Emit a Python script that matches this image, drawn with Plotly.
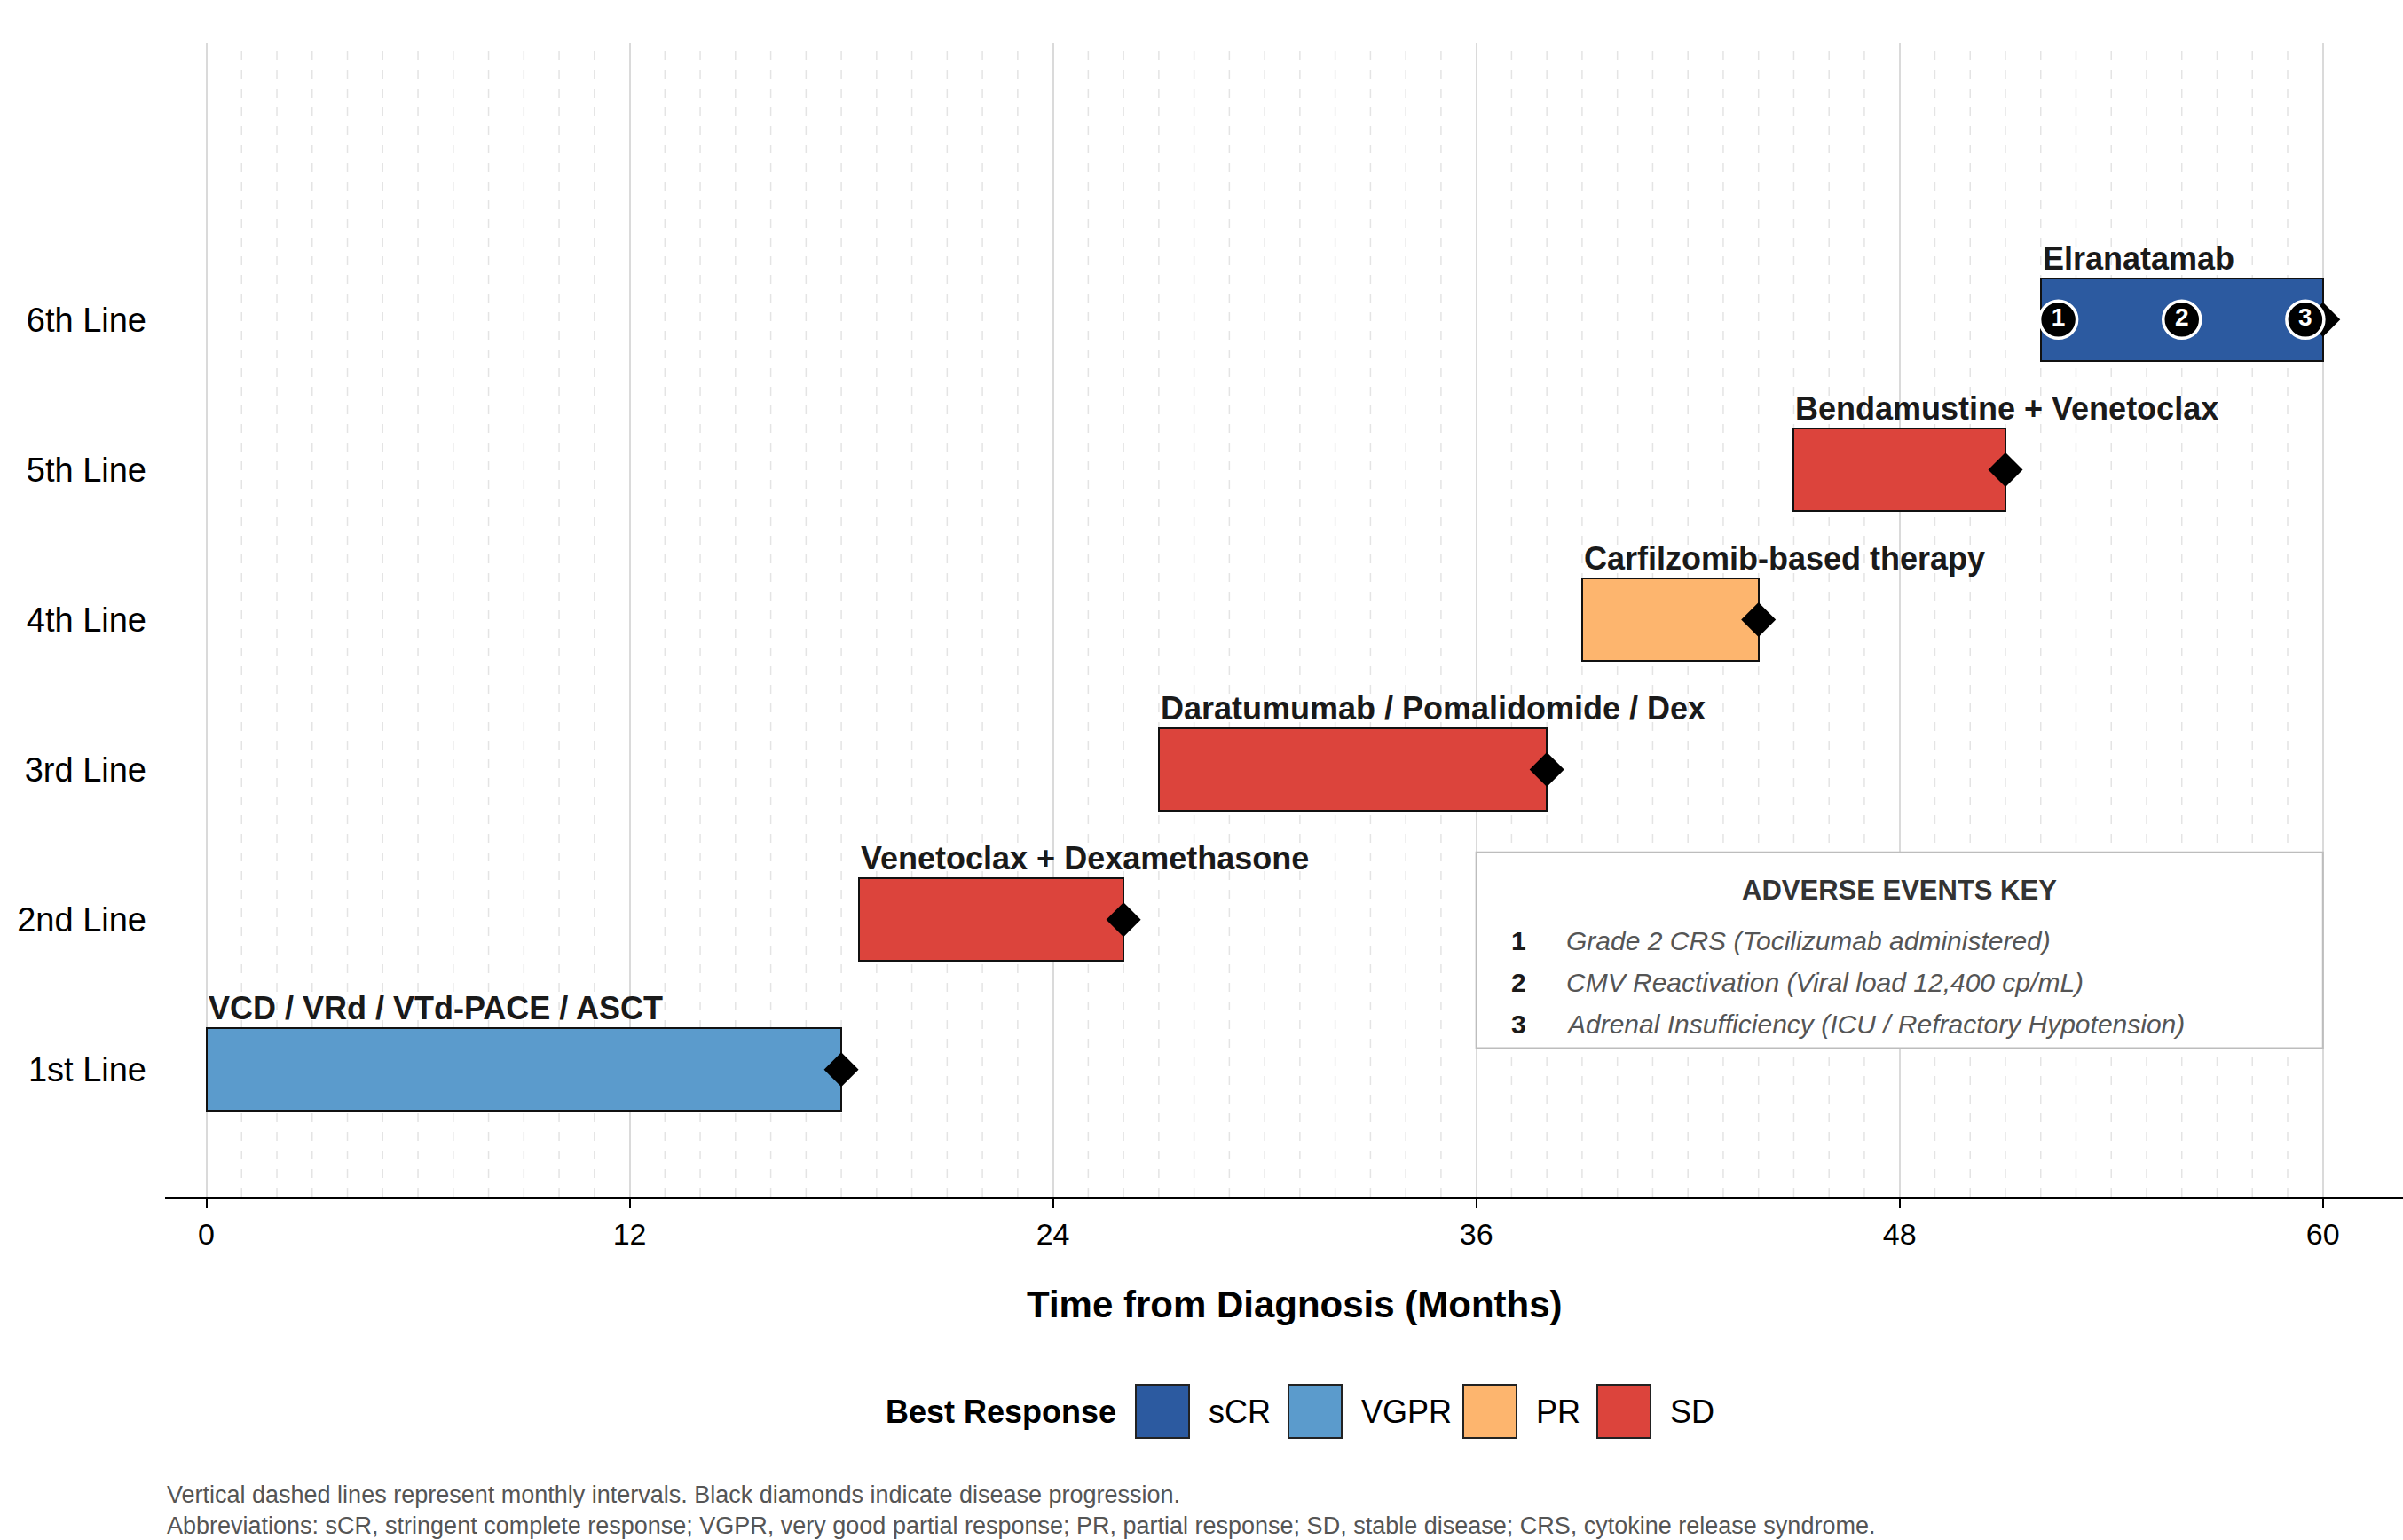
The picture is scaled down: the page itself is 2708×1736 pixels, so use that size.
import plotly.graph_objects as go

# ---------------- data ----------------
line_labels = ["1st Line", "2nd Line", "3rd Line", "4th Line", "5th Line", "6th Line"]
regimens = ["VCD / VRd / VTd-PACE / ASCT", "Venetoclax + Dexamethasone",
            "Daratumumab / Pomalidomide / Dex", "Carfilzomib-based therapy",
            "Bendamustine + Venetoclax", "Elranatamab"]
start_month = [0, 18.5, 27, 39, 45, 52]
end_month = [18, 26, 38, 44, 51, 60]
best_response = ["VGPR", "SD", "SD", "PR", "SD", "sCR"]
progression_month = [18, 26, 38, 44, 51, 60]

ae_ids = ["1", "2", "3"]
ae_month = [52.5, 56, 59.5]
ae_line = [5, 5, 5]
ae_text = ["Grade 2 CRS (Tocilizumab administered)",
           "CMV Reactivation (Viral load 12,400 cp/mL)",
           "Adrenal Insufficiency (ICU / Refractory Hypotension)"]

response_order = ["sCR", "VGPR", "PR", "SD"]
response_colors = {"sCR": "#2C5AA0", "VGPR": "#5B9BCC", "PR": "#FDB56E", "SD": "#DC443C"}

x_major_ticks = [0, 12, 24, 36, 48, 60]
monthly_lines = [m for m in range(1, 60) if m % 12 != 0]

FONT = "Liberation Sans, Arial, Helvetica, sans-serif"

W, H = 2708, 1736
ML, MR, MT, MB = 186, 0, 48, 387
PW = W - ML - MR
PH = H - MT - MB


def px_x(px):
    return (px - ML) / PW


def px_y(py):
    return (H - MB - py) / PH


fig = go.Figure()

ypos = list(range(len(line_labels)))
durations = [e - s for s, e in zip(start_month, end_month)]

fig.add_trace(go.Bar(
    y=ypos, x=durations, base=start_month, orientation="h", width=0.55,
    marker=dict(color=[response_colors[r] for r in best_response],
                line=dict(color="#111111", width=2)),
    showlegend=False, hoverinfo="skip"))

# progression diamonds
fig.add_trace(go.Scatter(
    x=progression_month, y=ypos, mode="markers",
    marker=dict(symbol="diamond", size=30, color="black"),
    showlegend=False, hoverinfo="skip"))

# adverse event circles
fig.add_trace(go.Scatter(
    x=ae_month, y=ae_line, mode="markers+text", text=["<b>%s</b>" % t for t in ae_ids],
    textposition="middle center",
    textfont=dict(color="white", size=28, family=FONT),
    marker=dict(symbol="circle", size=42, color="black", line=dict(color="white", width=3.5)),
    showlegend=False, hoverinfo="skip"))

annotations = []
shapes = []

# regimen labels
for i, (s, lab) in enumerate(zip(start_month, regimens)):
    annotations.append(dict(x=s, y=i + 0.275, xref="x", yref="y", text="<b>%s</b>" % lab,
                            showarrow=False, xanchor="left", yanchor="bottom", yshift=0,
                            font=dict(size=36, color="#1a1a1a", family=FONT)))

# monthly dashed lines
for m in monthly_lines:
    shapes.append(dict(type="line", xref="x", yref="paper", x0=m, x1=m, y0=0, y1=0.995,
                       line=dict(color="#e4e4e4", width=1.5, dash="10px,11px"), layer="below"))

# adverse events key box
shapes.append(dict(type="rect", xref="x", yref="y", x0=36, x1=60, y0=0.143, y1=1.449,
                   line=dict(color="#bdbdbd", width=2), fillcolor="white", layer="above"))
annotations.append(dict(x=48, y=1.194, xref="x", yref="y", text="<b>ADVERSE EVENTS KEY</b>",
                        showarrow=False, xanchor="center", yanchor="middle",
                        font=dict(size=31, color="#333333", family=FONT)))
key_y = [0.857, 0.582, 0.306]
for k, (aid, txt) in enumerate(zip(ae_ids, ae_text)):
    annotations.append(dict(x=37.2, y=key_y[k], xref="x", yref="y", text="<b>%s</b>" % aid,
                            showarrow=False, xanchor="center", yanchor="middle",
                            font=dict(size=30, color="#1a1a1a", family=FONT)))
    annotations.append(dict(x=38.5, y=key_y[k], xref="x", yref="y", text="<i>%s</i>" % txt,
                            showarrow=False, xanchor="left", yanchor="middle",
                            font=dict(size=30, color="#555555", family=FONT)))

# x-axis title
annotations.append(dict(x=px_x(1459), y=px_y(1470), xref="paper", yref="paper",
                        text="<b>Time from Diagnosis (Months)</b>", showarrow=False,
                        xanchor="center", yanchor="middle",
                        font=dict(size=42, color="black", family=FONT)))

# custom legend
annotations.append(dict(x=px_x(1260), y=px_y(1591), xref="paper", yref="paper",
                        text="<b>Best Response</b>", showarrow=False, xanchor="right",
                        yanchor="middle", font=dict(size=36, color="black", family=FONT)))
swatch_left = [1280, 1452, 1649, 1800]
for r, sx in zip(response_order, swatch_left):
    shapes.append(dict(type="rect", xref="paper", yref="paper",
                       x0=px_x(sx), x1=px_x(sx + 60), y0=px_y(1621), y1=px_y(1561),
                       fillcolor=response_colors[r], line=dict(color="#222222", width=2)))
    annotations.append(dict(x=px_x(sx + 80), y=px_y(1591), xref="paper", yref="paper",
                            text=r, showarrow=False, xanchor="left", yanchor="middle",
                            font=dict(size=36, color="black", family=FONT)))

# footnote
annotations.append(dict(x=0, y=px_y(1702), xref="paper", yref="paper",
                        text="Vertical dashed lines represent monthly intervals. Black diamonds indicate disease progression.<br>"
                             "Abbreviations: sCR, stringent complete response; VGPR, very good partial response; PR, partial response; SD, stable disease; CRS, cytokine release syndrome.",
                        showarrow=False, xanchor="left", yanchor="middle", align="left",
                        font=dict(size=27, color="#555555", family=FONT)))

fig.update_layout(
    width=W, height=H,
    margin=dict(l=ML, r=MR, t=MT, b=MB),
    paper_bgcolor="white", plot_bgcolor="white",
    font=dict(family=FONT, color="black"),
    shapes=shapes, annotations=annotations,
    bargap=0,
)
fig.update_xaxes(range=[-1.17, 62.27], tickvals=x_major_ticks,
                 ticktext=[str(t) for t in x_major_ticks],
                 showgrid=True, gridcolor="#dadada", gridwidth=2,
                 showline=True, linecolor="black", linewidth=3,
                 ticks="outside", ticklen=10, tickwidth=2, tickcolor="black",
                 tickfont=dict(size=34, color="black", family=FONT),
                 zeroline=False, fixedrange=True)
fig.update_yaxes(range=[-0.847, 6.847], tickvals=ypos, ticktext=line_labels,
                 showgrid=False, zeroline=False, showline=False, ticks="",
                 ticklabelstandoff=20,
                 tickfont=dict(size=38, color="black", family=FONT), fixedrange=True)

fig.write_html("out.html")
